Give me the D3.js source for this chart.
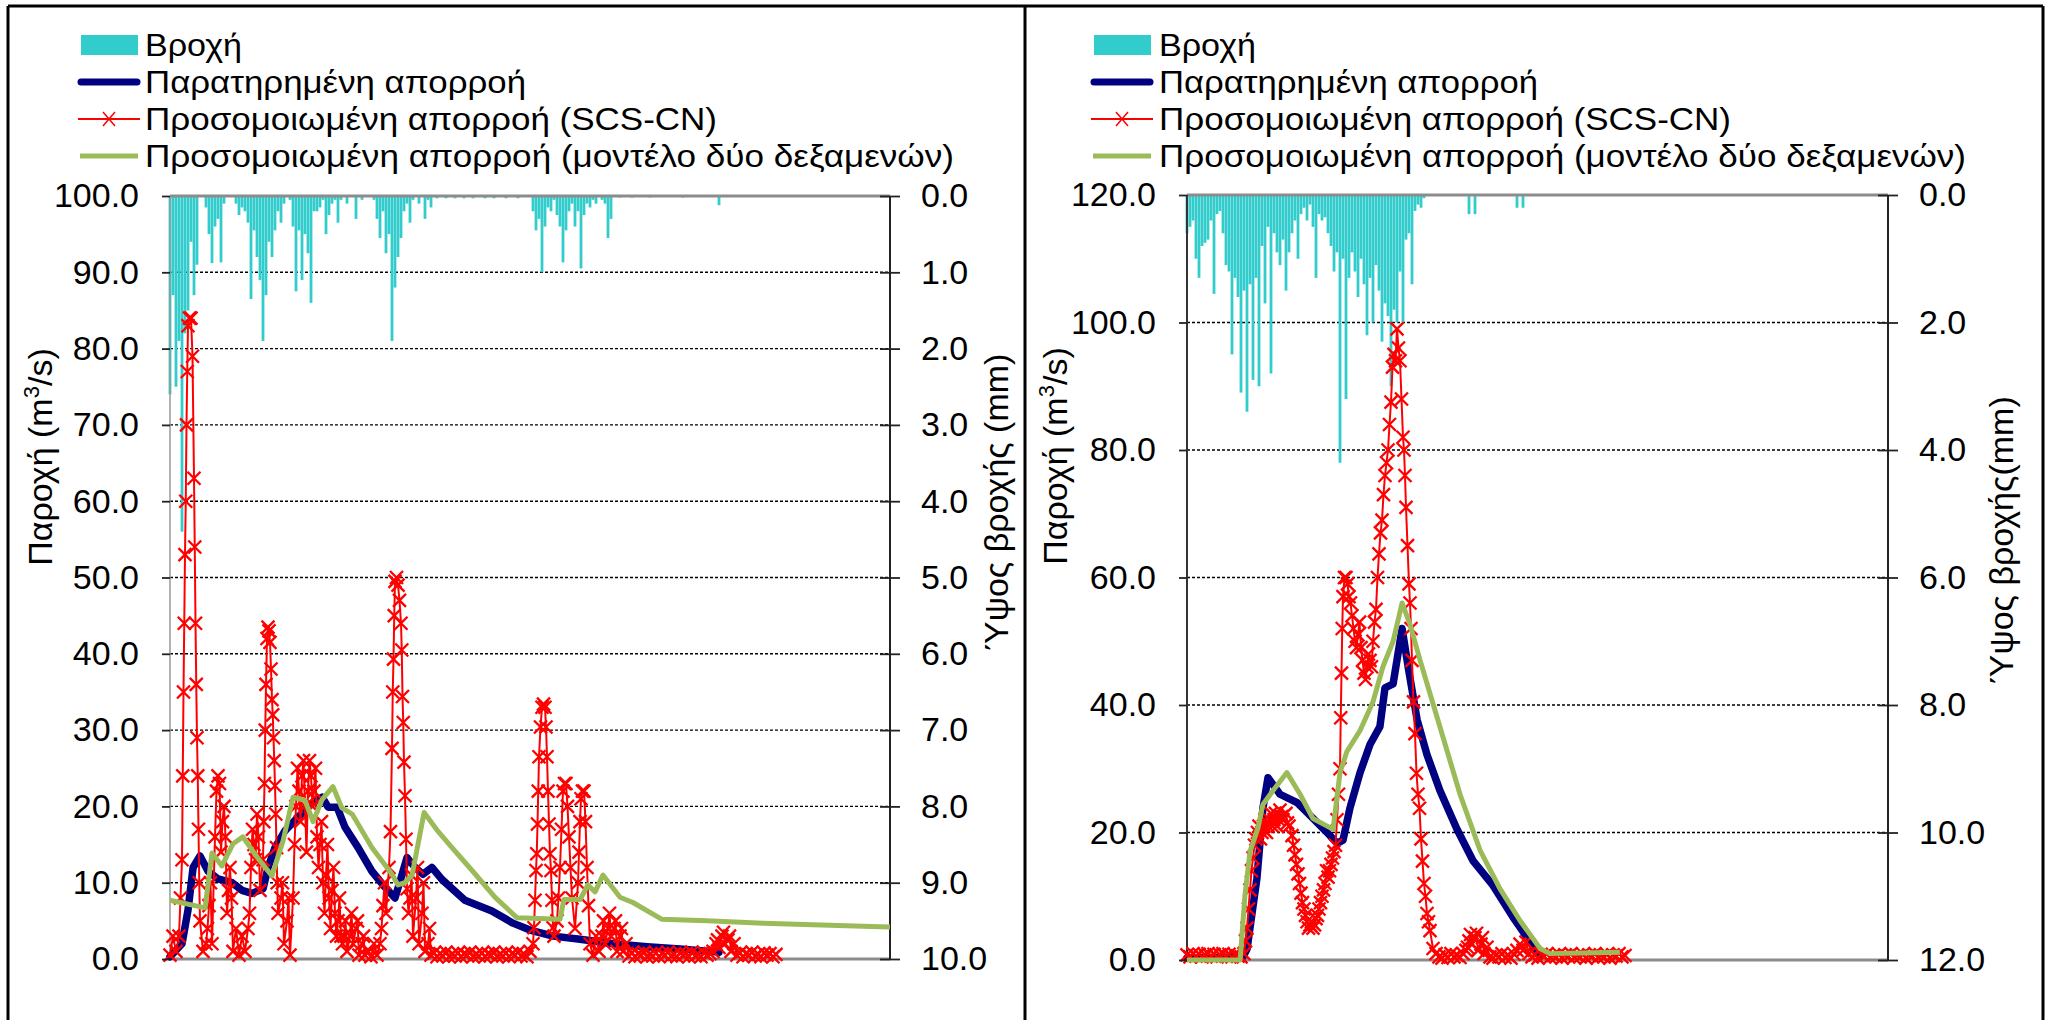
<!DOCTYPE html>
<html><head><meta charset="utf-8">
<script src="https://cdn.jsdelivr.net/npm/d3@7"></script>
<style>body{margin:0;background:#fff}</style>
</head><body>
<svg id="chart" width="2051" height="1020"></svg>
<script>
// ---------------- DATA ----------------
const legendLabels = ["Βροχή", "Παρατηρημένη απορροή", "Προσομοιωμένη απορροή (SCS-CN)", "Προσομοιωμένη απορροή (μοντέλο δύο δεξαμενών)"];
const qTitle = "Παροχή (m";
const leftRainTitle = "Ύψος βροχής (mm)";
const rightRainTitle = "Ύψος βροχής(mm)";

const leftQTicks = [0,10,20,30,40,50,60,70,80,90,100];
const leftRainTicks = [0,1,2,3,4,5,6,7,8,9,10];
const rightQTicks = [0,20,40,60,80,100,120];
const rightRainTicks = [0,2,4,6,8,10,12];

// Left event: rainfall (mm) per time step
const leftRain = [2.6,1.3,2.5,1.9,4.4,1.8,1.5,0.6,1.3,0.9,0,0,
0.15,0.5,0.88,0.4,0.3,0.87,0.1,0,0,0,0.1,0.25,
0.15,0.2,0.35,1.35,0.45,0.8,1.1,1.9,1.3,0.6,0.8,0.45,
0.2,0.35,0.1,0,0.05,0.4,1.25,0.45,1.1,0.5,0.75,1.4,
0.2,0.2,0.15,0.05,0.5,0.25,0.1,0.05,0.35,0.05,0,0.1,
0,0,0.3,0,0.05,0,0,0,0.05,0.3,0.55,0.2,
0.75,0.5,1.9,1.2,0.8,0.55,0.2,0.1,0.35,0.05,0,0.1,
0,0.3,0.05,0.15,0,0.03,0,0,0.03,0,0,0.03,
0,0,0.03,0,0,0.03,0,0,0,0.03,0,0,
0.03,0,0,0,0.03,0,0,0,0.03,0,0,0,
0,0.2,0.45,0.3,1.0,0.4,0.15,0.2,0.05,0.25,0.4,0.87,
0.45,0.2,0.1,0.4,0.2,0.95,0.25,0.1,0.15,0.05,0.1,0,
0.05,0.1,0.55,0.3,0,0,0.02,0,0,0,0.02,0,
0,0,0,0,0.02,0,0,0,0,0,0,0,
0,0,0,0.02,0,0,0,0,0,0,0,0,
0,0,0,0.12,0];

// Left event: simulated runoff SCS-CN (m3/s); one entry per time step,
// a sub-list holds the several readings that fall inside one step
const leftSCS = [0.5,3,1,[3,8],[13,24,35,44],[53,60,70,77],[83,84],[84,79],[63,54,44,36],[29,24,17,10],5,1,
[2,4],[7,10],2,[16,22],[24,23],[14,18],[20,16],[6,9],[12,8],1,4,0.5,
3,1,[4,6],[12,17],[15,13],[19,16],9,[13,18,23,30],[36,42,43.5],[43,41.5,38],[34,32,29,26],[22.7,19,14.6,10],
6,[8,10],2,[5,8],0.5,[8,15],[20,25],[22,18],[24,26],[20,14],[22,26],[24,20],
[22,25],[16,12],[15,18],[10,6],[11,15],[8,4],[9,12],[6,3],[5,8],[3,2],[3,5],1,
[3,6],2,[4,5],0.5,[2,3],0.5,1,0.3,2,0.5,[2,4],[7,10],
6,[12,16.7],[27.6,35,39.3,45],[49.5,50],[49,47],[44,40.5,34.4,31],[25.8,21.4,15.7],[9.2,6],[8,11],3,[8,12],2,
[6,10],1,[2,4],0.5,0.8,0.3,0.7,0.4,0.9,0.3,0.6,0.4,
0.8,0.3,0.7,0.5,0.9,0.3,0.6,0.4,0.8,0.3,0.7,0.5,
0.9,0.3,0.6,0.4,0.8,0.3,0.7,0.5,0.9,0.4,0.6,0.3,
1,[2,4.1,7.7],[11.6,13.8,17.7,22],[26.5,30.4],[33,33.4],[33,30.4,26.5],[22,17.7,13.8],[11.6,7.7,4.1],3,[5,8],[12,17],[22,23],
[23,20],[16,12],8,4,[10,14,18],[21,22],[22,18],[12,7],2,0.5,3,1,
[3,5],2,[4,6],3,[4,5],1,[3,4],1,2,0.4,0.8,0.3,
0.7,0.5,0.9,0.3,0.6,0.4,0.8,0.3,0.7,0.5,0.9,0.4,
0.6,0.3,0.8,0.5,0.7,0.3,0.9,0.4,0.6,0.3,0.8,0.5,
0.7,1,[2,2.5],1.5,[3,3.5],2,[2.5,3],1,2,0.5,0.8,0.3,
0.7,0.5,0.9,0.4,0.6,0.3,0.8,0.5,0.7,0.3,0.6];

// Left event: observed runoff [time step, m3/s]
const leftObs = [[0,0.3],[4,2],[6,6.4],[7.7,12],[10,13.5],[12.7,11.5],[16,10.5],[20.7,10],[24,9],[27.3,8.6],
[31,9.2],[32.7,12],[35,14.6],[38.3,16.8],[42.7,18.6],[47.3,20.4],[50.7,21.2],[52.7,19.9],[55.7,19.9],[58.3,17.3],
[62.7,14.6],[67.3,11.5],[71.7,9.4],[75,8],[77.3,11],[79,13.3],[81.7,12],[84.3,11.1],[87.3,12],[90.7,10.4],
[98.3,7.7],[107.3,6.3],[114.3,4.7],[120,3.8],[127.7,3.0],[136.7,2.6],[147.7,2.0],[159,1.6],[170,1.3],[183,0.9]];

// Left event: simulated runoff, two-tank model [time step, m3/s]
const leftTank = [[0,7.7],[11.7,6.7],[14,13.9],[17.3,12.2],[21,15.1],[24.3,16],[29.3,13.2],[34,10.9],[37.7,15.5],[41,21.2],
[45,20.8],[47.7,18],[50.7,20.9],[54.3,22.6],[57.3,19.8],[60.7,19],[67.3,14.6],[74,11.1],[76,9.7],[78.3,10],
[80.7,11],[84.7,19.2],[89,16.9],[94,14.6],[100.7,11.6],[108.3,8.1],[115.7,5.4],[130,5.2],[131.3,7.8],[136.7,7.8],
[139.3,9.7],[141.7,8.8],[144.3,11],[150,8.1],[154.3,7.4],[164,5.2],[179,5.0],[197.7,4.7],[214.3,4.5],[231,4.3],[240,4.2]];

// Right event: rainfall (mm) per time step
const rightRain = [0.6,0.5,0.4,1.0,1.3,0.8,0.75,0.7,0.4,1.55,0.3,0.25,
0.6,1.1,1.2,2.5,1.3,1.6,3.1,1.5,3.4,1.4,2.9,1.3,
3.0,0.8,1.7,0.5,2.8,0.6,0.9,1.1,0.7,1.5,0.9,0.6,
0.4,1.0,0.3,0.2,0.4,0.15,0.5,1.3,0.3,0.4,0.35,0.6,
0.8,1.2,0.9,4.2,1.0,3.2,1.3,0.9,1.2,1.6,1.0,1.4,
2.2,1.3,2.0,1.1,1.5,2.3,1.7,1.9,3.0,1.8,2.0,1.2,
2.0,0.7,0.6,1.4,0.25,0.15,0.2,0.05,0,0,0,0,
0,0,0,0,0,0,0,0,0,0,0.3,0,
0.3,0,0,0,0,0,0,0,0,0,0,0,
0,0,0.2,0,0.2];

// Right event: simulated runoff SCS-CN (m3/s), same layout as leftSCS
const rightSCS = [0.8,0.5,1,0.6,0.9,0.5,0.8,1,0.6,0.9,0.5,0.8,
1,0.6,0.9,0.5,0.8,0.6,0.5,[1,3],[5,8],[11,14],[16,18],[19,20],
[21,19],[20,21],[22,20],[21,22],[23,21],[22,23],[21,22],[23.5,22.5],22,[23,21.5],21,[19.5,18],
[16.5,15],[13.5,12],[10.5,9],[8,7],[6,5],[5.5,6],[5,5.5],[6.5,7],[8,9],[10,11],[12,14],[13,14],
[15,16],[17,18],[22,26],[30,38,45,52],[57,60],[60,59],[57,56],[54,52],[50,49],[51,53],[49,47],[45,44],
[46,48],[47,46],[50,53],[55,60],[63.7,67],[69,73],[76,78],[80,84],[87.5,93],[95,94],[99,96],[94,88],
[82,80,76],[71,65],[59,56,52],[47,40.5],[35.5,29.3],[26,23.8],[19,15.5],[12,10],[7.3,6],4.6,1.8,1,
0.5,0.3,0.8,0.4,1,0.5,0.7,0.4,1,[1.5,2],[3,4],2.5,
[3.5,4.2],1.5,[2.5,3.5],1,2,0.5,0.3,0.8,0.5,1,0.4,0.7,
0.3,0.9,1.5,2.5,1.5,2.8,1,0.5,0.8,0.3,0.9,0.6,
1,0.4,0.7,0.5,0.9,0.3,0.8,0.6,1,0.4,0.7,0.5,
0.9,0.3,0.8,0.6,1,0.4,0.7,0.5,0.9,0.3,0.8,0.6,
1,0.5,0.7];

// Right event: observed runoff [time step, m3/s]
const rightObs = [[0,0.3],[18.7,0.5],[20,1.7],[23.3,12.8],[25.3,23.8],[27,28.6],[31,26],[36.7,24.7],[42,22.2],[46.7,20],
[50,18.3],[52,18.8],[54.3,23.8],[57.7,29.4],[61,33.8],[64.3,36.6],[66,42.7],[68.7,43.3],[71.7,52],[73.7,46],
[76.7,37.7],[80,32.2],[84.3,26.6],[90,20.5],[95.3,15.6],[102,11.7],[108.7,6.7],[114.3,2.9],[117.7,0.5]];

// Right event: simulated runoff, two-tank model [time step, m3/s]
const rightTank = [[0,0],[17.7,0],[19.3,10],[21,17],[23.7,20.8],[25.3,24.4],[28.7,26.6],[33.3,29.4],[37.7,26],[42,22.2],
[46.7,21],[48.7,20.5],[51,29.4],[53.3,32.7],[57.7,36],[62,40.5],[65.3,46],[68.7,50],[71.7,56],[74.3,52.7],
[77.7,47],[84.3,36.6],[91,26],[97.7,17.2],[104.3,11.2],[111,6.2],[117.7,1.8],[121,1.0],[144.3,1.2]];

// ---------------- DRAWING ----------------
const svg = d3.select("#chart");
const FONT = "'Liberation Sans', Arial, Helvetica, sans-serif";
const C_RAIN = "#33CCCC", C_OBS = "#000080", C_SCS = "#FF0000", C_TANK = "#9BBB59";

svg.append("rect").attr("width", 2051).attr("height", 1020).attr("fill", "#fff");

// turn per-step entries (number or list of readings in that step) into [t, value] points
function toPoints(series) {
  const pts = [];
  series.forEach((e, i) => {
    const vs = Array.isArray(e) ? e : [e];
    vs.forEach((v, j) => pts.push([i + j / vs.length, v]));
  });
  return pts;
}

function drawPanel(cfg, rain, scs, obs, tank) {
  const g = svg.append("g");
  const x = d3.scaleLinear().domain([0, cfg.idxMax]).range([cfg.x0, cfg.x1]);
  const yq = d3.scaleLinear().domain([0, cfg.qMax]).range([cfg.yBot, cfg.yTop]);
  const yr = d3.scaleLinear().domain([0, cfg.rMax]).range([cfg.yTop, cfg.yBot]);

  // gridlines
  g.append("g").selectAll("line").data(cfg.qTicks.filter(t => t > 0 && t < cfg.qMax)).join("line")
    .attr("x1", cfg.x0).attr("x2", cfg.x1).attr("y1", d => yq(d)).attr("y2", d => yq(d))
    .attr("stroke", "#000").attr("stroke-width", 1.4).attr("stroke-dasharray", "3,2");

  // rain bars hanging from top
  g.append("g").selectAll("rect").data(rain).join("rect")
    .attr("x", (d, i) => x(i) - 1.4).attr("width", 2.8)
    .attr("y", yr(0)).attr("height", d => Math.max(0, yr(d) - yr(0)))
    .attr("fill", C_RAIN);

  // axis frame lines
  g.append("line").attr("x1", cfg.x0).attr("x2", cfg.x1).attr("y1", cfg.yTop).attr("y2", cfg.yTop)
    .attr("stroke", "#8c8c8c").attr("stroke-width", 3);
  g.append("line").attr("x1", cfg.x0).attr("x2", cfg.x1).attr("y1", cfg.yBot).attr("y2", cfg.yBot)
    .attr("stroke", "#8c8c8c").attr("stroke-width", 3);
  g.append("line").attr("x1", cfg.x0).attr("x2", cfg.x0).attr("y1", cfg.yTop).attr("y2", cfg.yBot)
    .attr("stroke", cfg.leftAxisColor).attr("stroke-width", cfg.leftAxisWidth);
  g.append("line").attr("x1", cfg.x1).attr("x2", cfg.x1).attr("y1", cfg.yTop).attr("y2", cfg.yBot)
    .attr("stroke", "#222").attr("stroke-width", 2);

  // series
  const line = d3.line().x(d => x(d[0])).y(d => yq(d[1]));
  const scsPts = toPoints(scs);
  g.append("path").attr("d", line(obs)).attr("fill", "none").attr("stroke", C_OBS)
    .attr("stroke-width", 7.5).attr("stroke-linejoin", "round").attr("stroke-linecap", "round");
  g.append("path").attr("d", line(scsPts)).attr("fill", "none").attr("stroke", C_SCS)
    .attr("stroke-width", 2).attr("stroke-linejoin", "round");
  g.append("g").selectAll("path").data(scsPts).join("path")
    .attr("d", "M-6.5,-6.5L6.5,6.5M-6.5,6.5L6.5,-6.5")
    .attr("transform", d => `translate(${x(d[0])},${yq(d[1])})`)
    .attr("stroke", C_SCS).attr("stroke-width", 2.3).attr("fill", "none");
  g.append("path").attr("d", line(tank)).attr("fill", "none").attr("stroke", C_TANK)
    .attr("stroke-width", 5).attr("stroke-linejoin", "round");

  // axes
  const fmt = d3.format(".1f");
  const axL = g.append("g").attr("transform", `translate(${cfg.x0},0)`)
    .call(d3.axisLeft(yq).tickValues(cfg.qTicks).tickFormat(fmt).tickSize(8).tickPadding(23));
  const axR = g.append("g").attr("transform", `translate(${cfg.x1},0)`)
    .call(d3.axisRight(yr).tickValues(cfg.rTicks).tickFormat(fmt).tickSize(10).tickPadding(21));
  axR.selectAll(".tick line").attr("x1", -10);
  [axL, axR].forEach(a => {
    a.select(".domain").remove();
    a.attr("font-size", 34).attr("font-family", FONT).attr("color", "#222");
    a.selectAll(".tick line").attr("stroke-width", 1.8);
    a.selectAll(".tick text").attr("fill", "#000");
  });

  // axis titles
  const tl = g.append("text").attr("transform", `translate(${cfg.titleLX},${cfg.titleLY}) rotate(-90)`)
    .attr("text-anchor", "middle").attr("font-size", 34).attr("font-family", FONT).attr("fill", "#000");
  tl.append("tspan").text(qTitle);
  tl.append("tspan").attr("dy", -13).attr("font-size", 22).text("3");
  tl.append("tspan").attr("dy", 13).text("/s)");
  g.append("text").attr("transform", `translate(${cfg.titleRX},${cfg.titleRY}) rotate(-90)`)
    .attr("text-anchor", "middle").attr("font-size", 34).attr("font-family", FONT).attr("fill", "#000")
    .text(cfg.rainTitle);

  // legend
  const lg = g.append("g");
  const rows = cfg.legendRows;
  const sx0 = cfg.legendX, sx1 = cfg.legendX + 62;
  lg.append("rect").attr("x", sx0 + 3).attr("y", rows[0] - 10).attr("width", 57).attr("height", 20).attr("fill", C_RAIN);
  lg.append("line").attr("x1", sx0 + 3).attr("x2", sx1 - 3).attr("y1", rows[1]).attr("y2", rows[1])
    .attr("stroke", C_OBS).attr("stroke-width", 7).attr("stroke-linecap", "round");
  lg.append("line").attr("x1", sx0).attr("x2", sx1).attr("y1", rows[2]).attr("y2", rows[2])
    .attr("stroke", C_SCS).attr("stroke-width", 2);
  lg.append("path").attr("d", "M-6,-7L6,7M-6,7L6,-7").attr("transform", `translate(${(sx0 + sx1) / 2},${rows[2]})`)
    .attr("stroke", C_SCS).attr("stroke-width", 1.5).attr("fill", "none");
  lg.append("line").attr("x1", sx0 + 2).attr("x2", sx1 - 2).attr("y1", rows[3]).attr("y2", rows[3])
    .attr("stroke", C_TANK).attr("stroke-width", 5);
  lg.selectAll("text").data(legendLabels).join("text")
    .attr("x", cfg.legendTextX).attr("y", (d, i) => rows[i] + 11)
    .attr("font-size", 32).attr("font-family", FONT).attr("fill", "#000")
    .attr("textLength", (d, i) => cfg.legendWidths[i]).attr("lengthAdjust", "spacingAndGlyphs")
    .text(d => d);
}

drawPanel({x0: 170, x1: 890, yTop: 196, yBot: 959, idxMax: 240, qMax: 100, rMax: 10,
  qTicks: leftQTicks, rTicks: leftRainTicks, leftAxisColor: "#999", leftAxisWidth: 1.5,
  titleLX: 52, titleLY: 457, titleRX: 1008, titleRY: 502, rainTitle: leftRainTitle,
  legendX: 78, legendTextX: 145, legendRows: [45, 82, 119, 156], legendWidths: [97, 381, 572, 809]},
  leftRain, leftSCS, leftObs, leftTank);

drawPanel({x0: 1187, x1: 1888, yTop: 195, yBot: 960, idxMax: 701 / 3, qMax: 120, rMax: 12,
  qTicks: rightQTicks, rTicks: rightRainTicks, leftAxisColor: "#333", leftAxisWidth: 2,
  titleLX: 1067, titleLY: 456, titleRX: 2013, titleRY: 540, rainTitle: rightRainTitle,
  legendX: 1091, legendTextX: 1159, legendRows: [45, 82, 119, 156], legendWidths: [97, 379, 572, 807]},
  rightRain, rightSCS, rightObs, rightTank);

// outer frames
const frame = svg.append("g").attr("stroke", "#000").attr("stroke-width", 3);
frame.append("line").attr("x1", 8).attr("x2", 8).attr("y1", 6).attr("y2", 1020);
frame.append("line").attr("x1", 8).attr("x2", 2043).attr("y1", 6).attr("y2", 6);
frame.append("line").attr("x1", 1025).attr("x2", 1025).attr("y1", 6).attr("y2", 1020);
frame.append("line").attr("x1", 2043).attr("x2", 2043).attr("y1", 6).attr("y2", 1020);
</script>
</body></html>
